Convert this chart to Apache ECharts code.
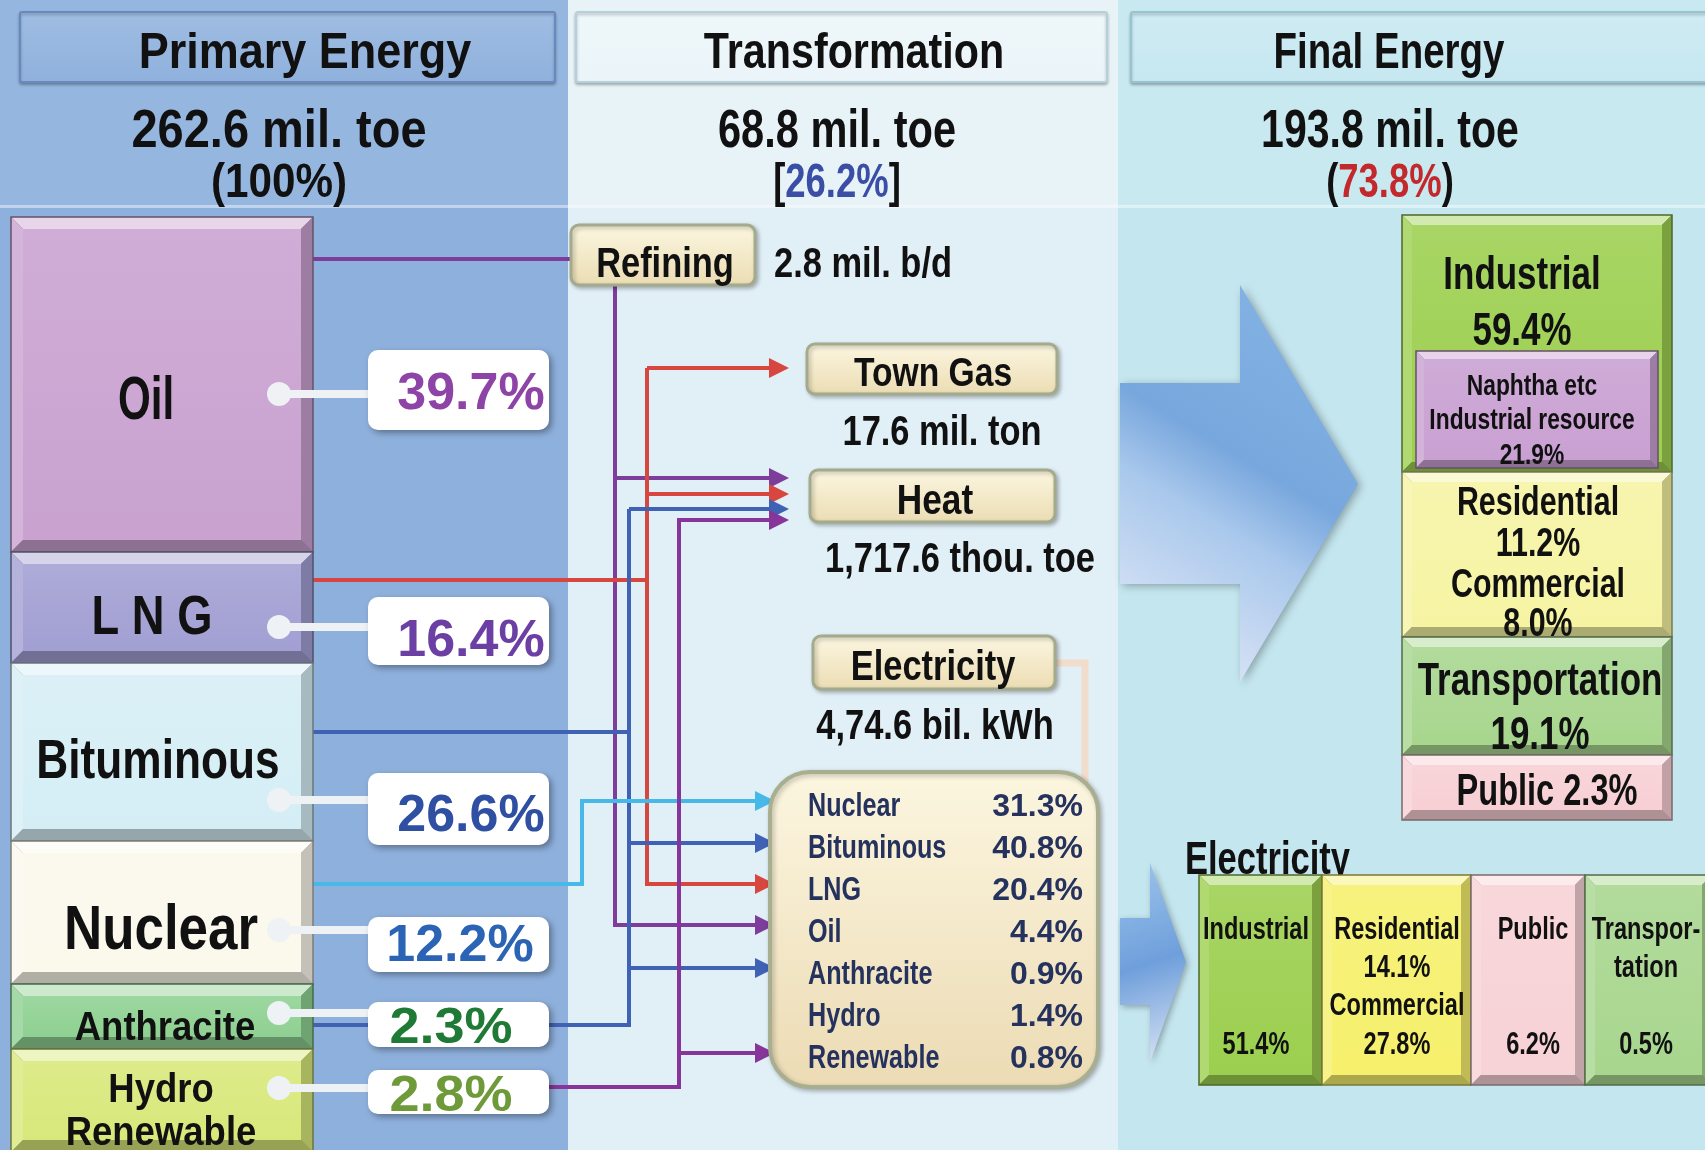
<!DOCTYPE html>
<html>
<head>
<meta charset="utf-8">
<script src="https://cdn.jsdelivr.net/npm/echarts@6/dist/echarts.min.js"></script>
<style>
  html, body { margin: 0; padding: 0; background: #fff; }
  #chart { width: 1705px; height: 1150px; }
</style>
</head>
<body>
<div id="chart"></div>
<script>
// ---- data ----
const columnTitles = ['Primary Energy', 'Transformation', 'Final Energy']
const columnTotals = ['262.6 mil. toe', '68.8 mil. toe', '193.8 mil. toe']
const columnShares = ['100%', '26.2%', '73.8%']

const primaryNames = ['Oil', 'L N G', 'Bituminous', 'Nuclear', 'Anthracite', 'Hydro\nRenewable']
const primaryShares = [39.7, 16.4, 26.6, 12.2, 2.3, 2.8]

const transformNames = ['Refining', 'Town Gas', 'Heat', 'Electricity']
const transformAmounts = ['2.8 mil. b/d', '17.6 mil. ton', '1,717.6 thou. toe', '4,74.6 bil. kWh']

const powerSources = ['Nuclear', 'Bituminous', 'LNG', 'Oil', 'Anthracite', 'Hydro', 'Renewable']
const powerShares = [31.3, 40.8, 20.4, 4.4, 0.9, 1.4, 0.8]

const finalSectors = ['Industrial', 'Residential', 'Commercial', 'Transportation', 'Public']
const finalShares = [59.4, 11.2, 8.0, 19.1, 2.3]
const feedstockLabel = ['Naphtha etc', 'Industrial resource']
const feedstockShare = 21.9

const elecSectors = ['Industrial', 'Residential', 'Commercial', 'Public', 'Transpor-\ntation']
const elecShares = [51.4, 14.1, 27.8, 6.2, 0.5]

// ---- helpers ----
// no condensed face is installed, so the narrow lettering is Liberation Sans squeezed horizontally
const FONT = '"Liberation Sans", Arial, sans-serif'
const font = (s) => 'bold ' + s + 'px ' + FONT
const pct = (v) => v.toFixed(1) + '%'

const els = []

function mix(c, t, k) {
  const a = parseInt(c.slice(1), 16), b = parseInt(t.slice(1), 16)
  const ch = (sh) => {
    const x = (a >> sh) & 255, y = (b >> sh) & 255
    return Math.round(x + (y - x) * k)
  }
  return 'rgb(' + ch(16) + ',' + ch(8) + ',' + ch(0) + ')'
}

function rect(x, y, w, h, style, r) {
  els.push({ type: 'rect', shape: { x, y, width: w, height: h, r: r || 0 }, style })
}
function poly(points, style) {
  els.push({ type: 'polygon', shape: { points }, style })
}
// text visually centred on (x, y); sx squeezes it horizontally
function text(t, x, y, size, sx, fill, extra) {
  els.push({
    type: 'text', x, y: y + 4, scaleX: sx,
    style: Object.assign({
      text: t, x: 0, y: 0, font: font(size), fill: fill || '#111',
      align: 'center', verticalAlign: 'middle'
    }, extra || {})
  })
}
function line(points, color, width) {
  els.push({ type: 'polyline', shape: { points }, style: { stroke: color, lineWidth: width || 4, fill: null } })
}
// arrow pointing right, tip at last point
function arrow(points, color) {
  const tip = points[points.length - 1]
  const pts = points.slice(0, -1).concat([[tip[0] - 16, tip[1]]])
  line(pts, color)
  poly([[tip[0] - 20, tip[1] - 10], [tip[0], tip[1]], [tip[0] - 20, tip[1] + 10]], { fill: color })
}

function bevelBox(x, y, w, h, color, b) {
  b = b || 10
  rect(x, y, w, h, { fill: mix(color, '#000000', 0.35) })
  poly([[x, y], [x + w, y], [x + w - b, y + b], [x + b, y + b]], { fill: mix(color, '#ffffff', 0.55) })
  poly([[x, y], [x + b, y + b], [x + b, y + h - b], [x, y + h]], { fill: mix(color, '#ffffff', 0.2) })
  poly([[x + w, y], [x + w, y + h], [x + w - b, y + h - b], [x + w - b, y + b]], { fill: mix(color, '#000000', 0.22) })
  poly([[x, y + h], [x + w, y + h], [x + w - b, y + h - b], [x + b, y + h - b]], { fill: mix(color, '#000000', 0.3) })
  rect(x + b, y + b, w - 2 * b, h - 2 * b, {
    fill: new echarts.graphic.LinearGradient(0, 0, 0, 1, [
      { offset: 0, color: mix(color, '#ffffff', 0.12) },
      { offset: 1, color: color }
    ])
  })
  rect(x, y, w, h, { fill: null, stroke: mix(color, '#000000', 0.5), lineWidth: 1.5 })
}

function creamBox(x, y, w, h, r) {
  rect(x, y, w, h, {
    fill: new echarts.graphic.LinearGradient(0, 0, 0, 1, [
      { offset: 0, color: '#fcf7e2' },
      { offset: 1, color: '#ebdcb2' }
    ]),
    stroke: '#a3ab8c', lineWidth: 3,
    shadowBlur: 4, shadowOffsetX: 2, shadowOffsetY: 2, shadowColor: 'rgba(0,0,0,0.25)'
  }, r)
}

// ---- background panels ----
const panelX = [0, 568, 1118, 1705]
const panelFill = ['#8eb0dc', '#e1eff6', '#c4e6ef']
const panelTop = ['#95b6df', '#e8f3f8', '#c9e9f1']
const headerFill = ['#8fb1dd', '#ebf5f9', '#c6e8f1']
const headerStroke = ['#6888c0', '#b4d0da', '#98c4d2']
const headerBox = [[20, 555], [576, 1107], [1131, 1712]]
const titleX = [305, 854, 1389]
const totalX = [279, 837, 1390]
const titleSx = [0.9, 0.825, 0.77]
const totalSx = [0.87, 0.77, 0.76]
const shareSx = [0.88, 0.76, 0.76]
const shareColor = ['#111111', '#3a4ea6', '#c2282c']
const shareWrap = [['(', ')'], ['[', ']'], ['(', ')']]

for (let i = 0; i < 3; i++) {
  const x = panelX[i], w = panelX[i + 1] - x
  rect(x, 0, w, 1150, { fill: panelFill[i] })
  rect(x, 0, w, 206, { fill: panelTop[i] })
  rect(x, 205, w, 3, { fill: 'rgba(255,255,255,0.45)' })
  rect(headerBox[i][0], 12, headerBox[i][1] - headerBox[i][0], 70, {
    fill: new echarts.graphic.LinearGradient(0, 0, 0, 1, [
      { offset: 0, color: mix(headerFill[i], '#ffffff', 0.15) },
      { offset: 1, color: headerFill[i] }
    ]),
    stroke: headerStroke[i], lineWidth: 2,
    shadowBlur: 3, shadowOffsetY: 2, shadowColor: 'rgba(0,0,0,0.25)'
  }, 2)
  text(columnTitles[i], titleX[i], 50, 50, titleSx[i])
  text(columnTotals[i], totalX[i], 128, 54, totalSx[i])
  text(shareWrap[i][0] + '{n|' + columnShares[i] + '}' + shareWrap[i][1],
    totalX[i], 180, 48, shareSx[i], '#111',
    { rich: { n: { fill: shareColor[i], font: font(48) } } })
}

// ---- flow lines (drawn under boxes) ----
const cPurple = '#7d3d9b', cRed = '#d8473f', cBlue = '#3f62b4', cCyan = '#46b9e8', cPurple2 = '#87359a'
const heatTip = 789, powerTip = 775
// oil -> refining, refining -> heat / power
line([[313, 259], [571, 259]], cPurple)
arrow([[615, 285], [615, 925], [powerTip, 925]], cPurple)
arrow([[615, 478], [heatTip, 478]], cPurple)
// LNG -> town gas / heat / power
line([[313, 580], [647, 580]], cRed)
arrow([[647, 368], [heatTip, 368]], cRed)
arrow([[647, 368], [647, 884], [powerTip, 884]], cRed)
arrow([[647, 494], [heatTip, 494]], cRed)
// bituminous + anthracite -> heat / power
line([[313, 732], [629, 732]], cBlue)
line([[313, 1025], [629, 1025], [629, 509]], cBlue)
arrow([[629, 509], [heatTip, 509]], cBlue)
arrow([[629, 843], [powerTip, 843]], cBlue)
arrow([[629, 968], [powerTip, 968]], cBlue)
// nuclear -> power
arrow([[313, 884], [582, 884], [582, 801], [powerTip, 801]], cCyan)
// hydro / renewable -> heat / power
arrow([[549, 1087], [679, 1087], [679, 520], [heatTip, 520]], cPurple2)
arrow([[679, 1053], [powerTip, 1053]], cPurple2)

// ---- primary energy column ----
const primEdges = [217, 552, 663, 841, 984, 1049, 1152]
const primColors = ['#c9a2d0', '#a29fd3', '#d5eef5', '#fbf8ec', '#8fd192', '#d8e87a']
const primLabelY = [398, 615, 759, 928, 1025, 1108]
const primLabelX = [146, 152, 158, 161, 165, 161]
const primLabelSize = [62, 56, 56, 63, 41, 41]
const primLabelSx = [0.68, 0.81, 0.79, 0.84, 0.89, 0.89]
const dotY = [394, 627, 800, 930, 1013, 1088]
const pctBox = [[350, 430], [597, 665], [773, 845], [917, 972], [1002, 1047], [1070, 1114]]
const pctTextY = [391, 638, 813, 943, 1025, 1093]
const pctTextX = [471, 471, 471, 460, 451, 451]
const pctSize = [52, 52, 52, 52, 50, 50]
const pctSx = [1, 1, 1, 1, 1.08, 1.08]
const pctColors = ['#8e44a6', '#6b3fa3', '#2f4fa3', '#2b64b4', '#1f7a35', '#6f9a3a']

primaryNames.forEach((name, i) => {
  bevelBox(11, primEdges[i], 302, primEdges[i + 1] - primEdges[i], primColors[i], 12)
  text(name, primLabelX[i], primLabelY[i], primLabelSize[i], primLabelSx[i], '#111', { lineHeight: 43 })
})
primaryShares.forEach((v, i) => {
  line([[279, dotY[i]], [372, dotY[i]]], '#eef2f5', 8)
  els.push({ type: 'circle', shape: { cx: 279, cy: dotY[i], r: 12 }, style: { fill: '#eef2f5' } })
  rect(368, pctBox[i][0], 181, pctBox[i][1] - pctBox[i][0], {
    fill: '#ffffff', shadowBlur: 6, shadowOffsetX: 3, shadowOffsetY: 3, shadowColor: 'rgba(0,0,0,0.35)'
  }, 10)
  text(pct(v), pctTextX[i], pctTextY[i], pctSize[i], pctSx[i], pctColors[i])
})

// ---- transformation column ----
const MS = 0.82
creamBox(571, 225, 184, 60, 8)
text(transformNames[0], 665, 261, 42, MS)
text(transformAmounts[0], 774, 261, 42, MS, '#111', { align: 'left' })

creamBox(807, 344, 250, 50, 8)
text(transformNames[1], 933, 371, 41, MS)
text(transformAmounts[1], 942, 429, 42, MS)

creamBox(810, 470, 245, 52, 8)
text(transformNames[2], 935, 498, 43, MS)
text(transformAmounts[2], 960, 556, 42, MS)

// connector from Electricity box to the power mix box
line([[1052, 663], [1085, 663], [1085, 786]], '#f2dccb', 7)
creamBox(813, 636, 242, 53, 8)
text(transformNames[3], 933, 664, 42, MS)
text(transformAmounts[3], 935, 723, 42, MS)

// power generation mix
rect(770, 772, 328, 315, {
  fill: new echarts.graphic.LinearGradient(0, 0, 0, 1, [
    { offset: 0, color: '#fcf6e0' },
    { offset: 1, color: '#ecdbb4' }
  ]),
  stroke: '#a7af90', lineWidth: 4,
  shadowBlur: 5, shadowOffsetX: 2, shadowOffsetY: 2, shadowColor: 'rgba(0,0,0,0.25)'
}, 40)
const mixRowY = [803, 845, 887, 929, 971, 1013, 1055]
powerSources.forEach((name, i) => {
  text(name, 808, mixRowY[i], 34, 0.74, '#25325e', { align: 'left' })
  text(pct(powerShares[i]), 1083, mixRowY[i], 32, 1, '#25325e', { align: 'right' })
})

// ---- final energy column ----
const arrowFill = new echarts.graphic.LinearGradient(1, 0, 0, 1, [
  { offset: 0, color: '#86b6e6' },
  { offset: 0.45, color: '#78a7dd' },
  { offset: 0.6, color: '#a9c8ec' },
  { offset: 1, color: '#eceef9' }
])
poly([[1120, 383], [1240, 383], [1240, 285], [1358, 484], [1240, 682], [1240, 584], [1120, 584]], {
  fill: arrowFill, shadowBlur: 8, shadowOffsetX: 3, shadowOffsetY: 2, shadowColor: 'rgba(0,0,0,0.3)'
})

const FS = 0.76
const finalX = 1402, finalW = 270
bevelBox(finalX, 215, finalW, 257, '#9ccf4f', 10)
bevelBox(finalX, 472, finalW, 165, '#f6f4a3', 10)
bevelBox(finalX, 637, finalW, 118, '#a8d68e', 10)
bevelBox(finalX, 755, finalW, 65, '#f7cfd4', 10)
bevelBox(1416, 351, 242, 117, '#c9a0d2', 8)

text(finalSectors[0], 1522, 272, 46, FS)
text(pct(finalShares[0]), 1522, 328, 46, FS)
text(feedstockLabel[0], 1532, 383, 30, FS)
text(feedstockLabel[1], 1532, 417, 30, FS)
text(pct(feedstockShare), 1532, 452, 30, FS)
text(finalSectors[1], 1538, 500, 40, FS)
text(pct(finalShares[1]), 1538, 541, 40, FS)
text(finalSectors[2], 1538, 582, 40, FS)
text(pct(finalShares[2]), 1538, 621, 40, FS)
text(finalSectors[3], 1540, 678, 46, FS)
text(pct(finalShares[3]), 1540, 732, 46, FS)
text(finalSectors[4] + ' ' + pct(finalShares[4]), 1547, 789, 44, 0.74)

// electricity final use
text('Electricity', 1185, 857, 46, 0.75, '#111', { align: 'left' })
poly([[1120, 918], [1150, 918], [1150, 863], [1186, 962], [1150, 1062], [1150, 1005], [1120, 1005]], {
  fill: new echarts.graphic.LinearGradient(0, 0, 1, 1, [
    { offset: 0, color: '#9cc4ec' },
    { offset: 0.5, color: '#6f9fdb' },
    { offset: 1, color: '#dfe6f6' }
  ]),
  shadowBlur: 6, shadowOffsetX: 2, shadowOffsetY: 2, shadowColor: 'rgba(0,0,0,0.3)'
})
const elecEdges = [1199, 1322, 1471, 1585, 1712]
const elecColors = ['#9ccf4f', '#f6f06c', '#f7d2d6', '#a8d68e']
const elecMid = [1256, 1397, 1533, 1646]
const ES = 0.76, EZ = 31
elecColors.forEach((c, i) => bevelBox(elecEdges[i], 875, elecEdges[i + 1] - elecEdges[i], 210, c, 10))
text(elecSectors[0], elecMid[0], 926, EZ, ES)
text(pct(elecShares[0]), elecMid[0], 1041, EZ, ES)
text(elecSectors[1], elecMid[1], 926, EZ, ES)
text(pct(elecShares[1]), elecMid[1], 964, EZ, ES)
text(elecSectors[2], elecMid[1], 1002, EZ, ES)
text(pct(elecShares[2]), elecMid[1], 1041, EZ, ES)
text(elecSectors[3], elecMid[2], 926, EZ, ES)
text(pct(elecShares[3]), elecMid[2], 1041, EZ, ES)
text(elecSectors[4], elecMid[3], 945, EZ, ES, '#111', { lineHeight: 38 })
text(pct(elecShares[4]), elecMid[3], 1041, EZ, ES)

const chart = echarts.init(document.getElementById('chart'), null, { renderer: 'canvas' })
chart.setOption({
  animation: false,
  graphic: { elements: els }
})
</script>
</body>
</html>
